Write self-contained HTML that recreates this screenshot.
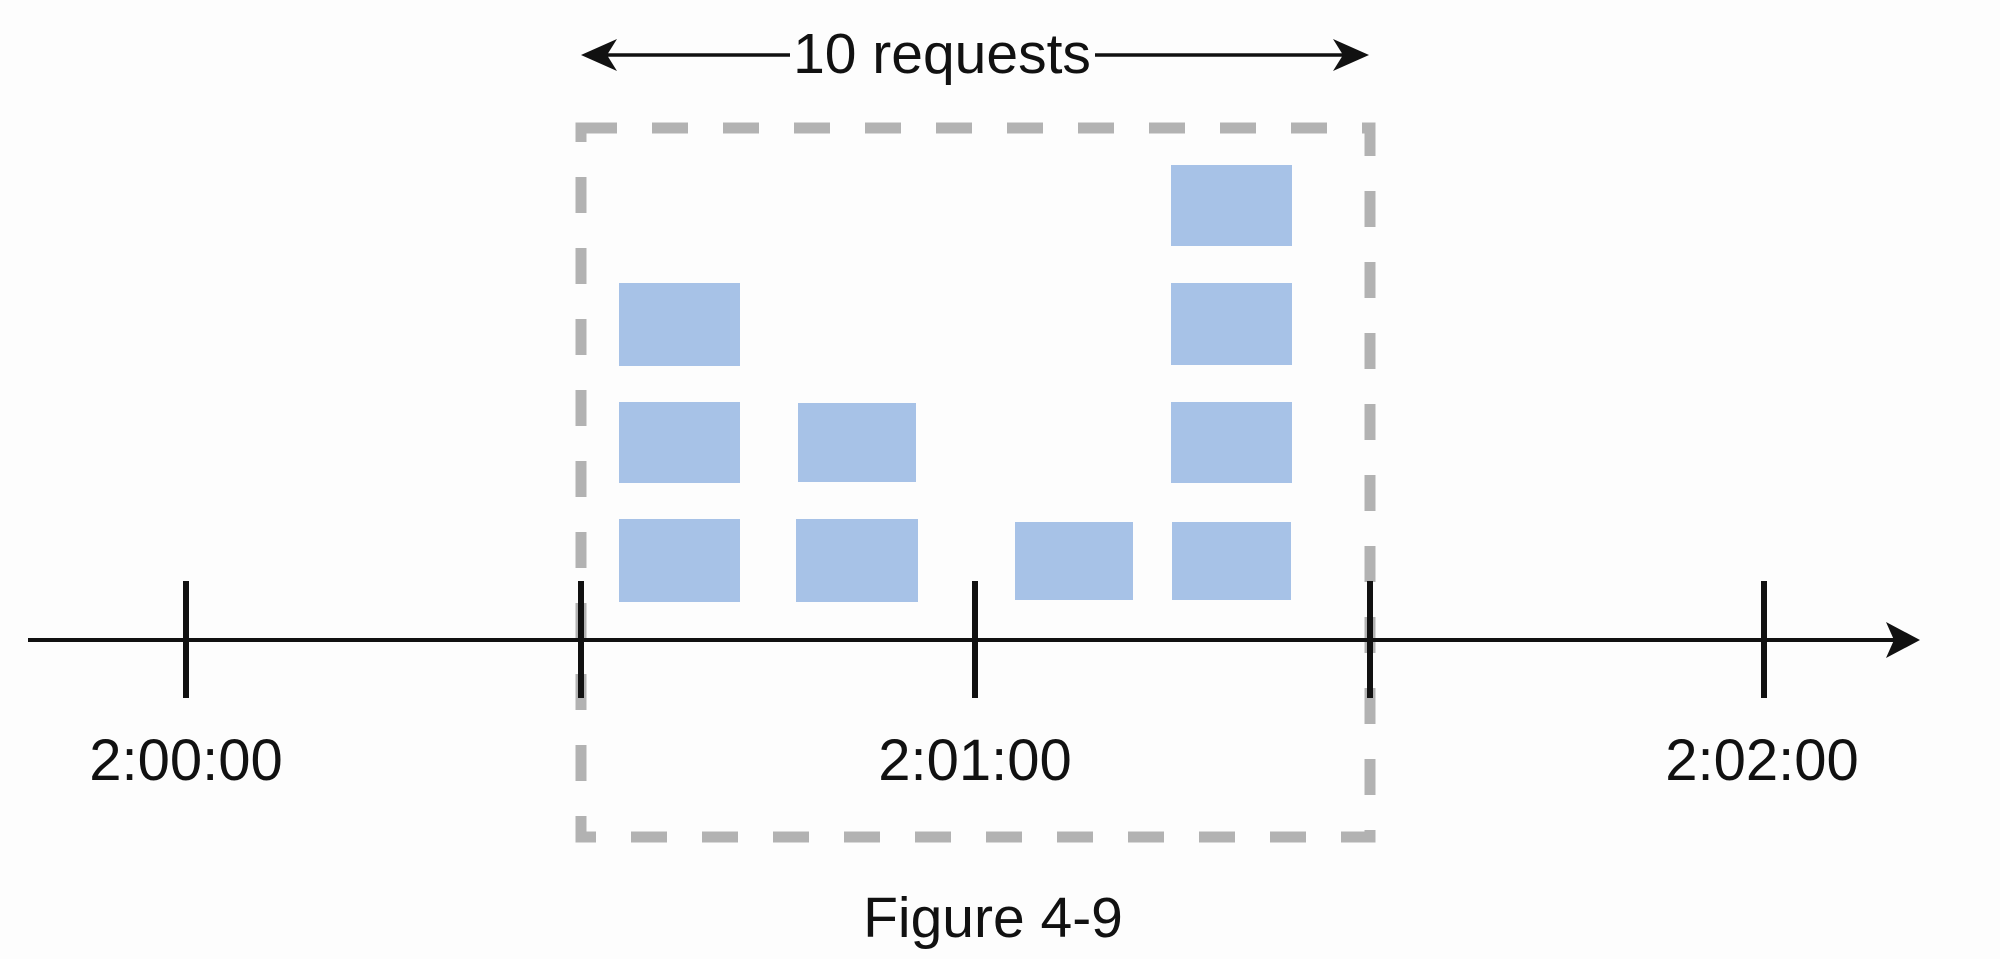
<!DOCTYPE html>
<html><head><meta charset="utf-8"><style>
html,body{margin:0;padding:0;background:#fdfdfd;}
svg{display:block;}
text{font-family:"Liberation Sans",sans-serif;fill:#111;}
</style></head><body>
<svg width="2000" height="959" viewBox="0 0 2000 959" xmlns="http://www.w3.org/2000/svg">
<rect x="0" y="0" width="2000" height="959" fill="#fdfdfd"/>
<!-- dashed box -->
<rect x="581" y="128" width="789" height="709" fill="none" stroke="#b2b2b2" stroke-width="11" stroke-dasharray="36 35"/>
<!-- blue rects -->
<g fill="#a7c2e7">
<rect x="619" y="283" width="121" height="83"/>
<rect x="619" y="402" width="121" height="81"/>
<rect x="619" y="519" width="121" height="83"/>
<rect x="798" y="403" width="118" height="79"/>
<rect x="796" y="519" width="122" height="83"/>
<rect x="1015" y="522" width="118" height="78"/>
<rect x="1171" y="165" width="121" height="81"/>
<rect x="1171" y="283" width="121" height="82"/>
<rect x="1171" y="402" width="121" height="81"/>
<rect x="1172" y="522" width="119" height="78"/>
</g>
<!-- axis -->
<line x1="28" y1="640" x2="1895" y2="640" stroke="#111" stroke-width="4"/>
<polygon points="1920,640 1886,622 1894,640 1886,658" fill="#111"/>
<g stroke="#111" stroke-width="6">
<line x1="186" y1="581" x2="186" y2="698"/>
<line x1="581" y1="581" x2="581" y2="698"/>
<line x1="975" y1="581" x2="975" y2="698"/>
<line x1="1370" y1="581" x2="1370" y2="698"/>
<line x1="1764" y1="581" x2="1764" y2="698"/>
</g>
<!-- top arrow -->
<line x1="595" y1="55" x2="790" y2="55" stroke="#111" stroke-width="3.5"/>
<polygon points="581,55 617,39 607,55 617,71" fill="#111"/>
<line x1="1095" y1="55" x2="1355" y2="55" stroke="#111" stroke-width="3.5"/>
<polygon points="1369,55 1333,39 1343,55 1333,71" fill="#111"/>
<text x="942" y="73" font-size="57" text-anchor="middle">10 requests</text>
<!-- labels -->
<text x="186" y="780" font-size="58" text-anchor="middle">2:00:00</text>
<text x="975" y="780" font-size="58" text-anchor="middle">2:01:00</text>
<text x="1762" y="780" font-size="58" text-anchor="middle">2:02:00</text>
<text x="993" y="937" font-size="57" text-anchor="middle">Figure 4-9</text>
</svg>
</body></html>
